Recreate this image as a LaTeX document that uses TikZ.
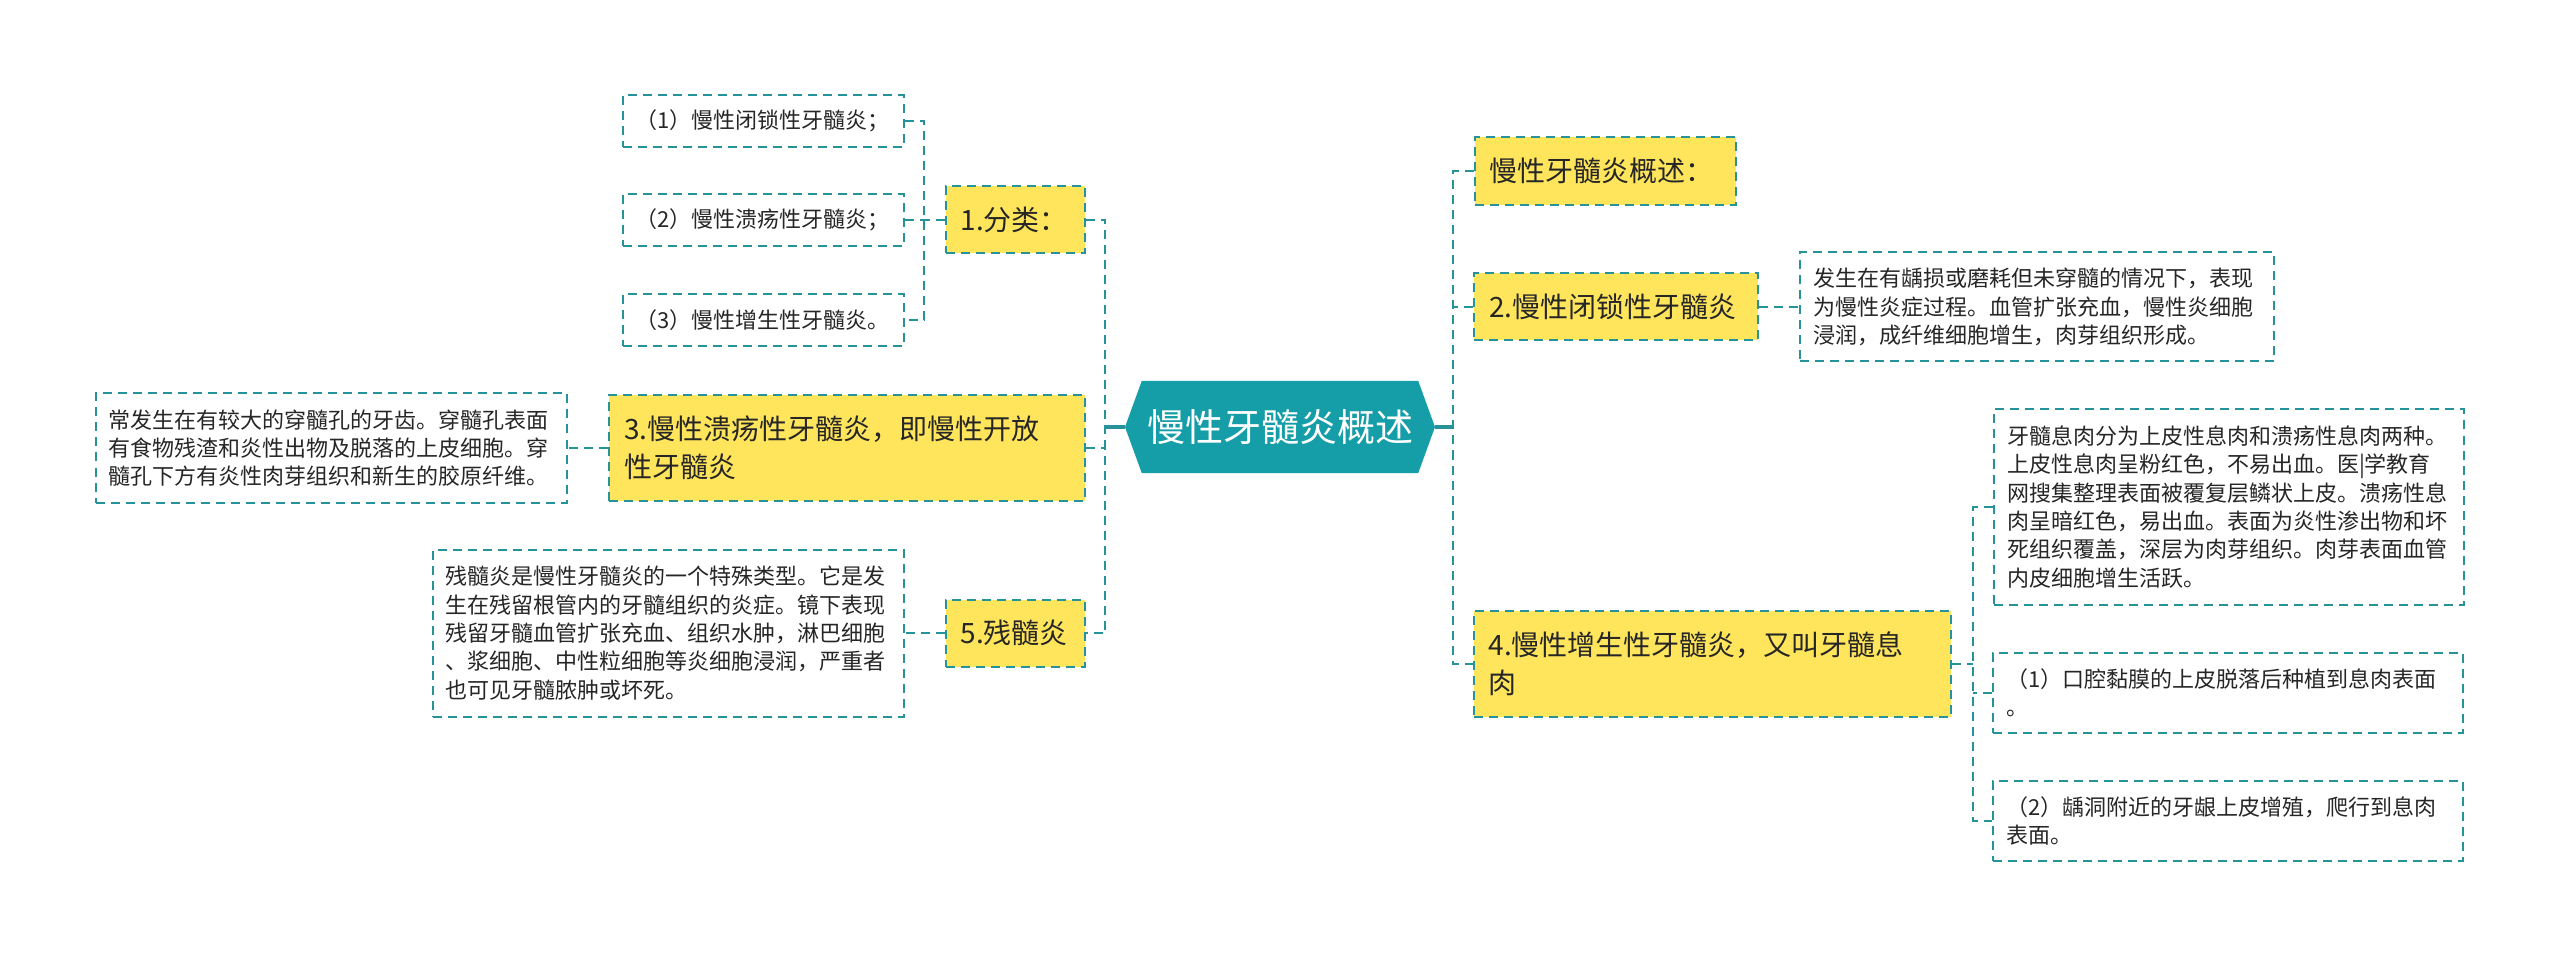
\documentclass[tikz,border=0pt]{standalone}
\usepackage{fontspec}
\setmainfont{Noto Sans CJK SC}
\usepackage{tikz}
\usetikzlibrary{shapes.symbols,calc}
\definecolor{pulpteal}{HTML}{169EA8}
\definecolor{pulpline}{HTML}{26939B}
\definecolor{pulpyellow}{HTML}{FFE55C}
\definecolor{pulptext}{HTML}{262626}
\setlength{\parindent}{0pt}

\begin{document}
\begin{tikzpicture}[x=1pt, y=-1pt,
    hub_box/.style={shape=signal, signal to=west and east, signal pointer angle=140, fill=pulpteal, draw=none, minimum width=310pt, minimum height=92pt, inner sep=0pt, text=white, font=\fontsize{38}{44}\selectfont},
    main_box/.style={draw=pulpline, fill=pulpyellow, line width=2pt, dash pattern=on 9pt off 6pt, inner xsep=15pt, inner ysep=0pt, align=left, text=pulptext, font=\fontsize{28}{38}\selectfont},
    note_box/.style={draw=pulpline, fill=white, line width=2pt, dash pattern=on 9pt off 6pt, inner xsep=13pt, inner ysep=0pt, align=left, text=pulptext, font=\fontsize{22}{28.3}\selectfont},
    link/.style={draw=pulpline, line width=2pt, dash pattern=on 9pt off 6pt},
    hub_link/.style={draw=pulpline, line width=3.5pt}
]
    \useasboundingbox (0,0) rectangle (2560,957);

    % Nodes
    \node[hub_box] (hub) at (1280,427) {慢性牙髓炎概述};

    % left side
    \node[main_box, text width=109pt, minimum height=67pt] (fenlei) at (1015,220) {1.分类：};
    \node[note_box, text width=255pt, minimum height=52pt] (fenlei_a) at (763,121) {（1）慢性闭锁性牙髓炎；};
    \node[note_box, text width=255pt, minimum height=52pt] (fenlei_b) at (763,220) {（2）慢性溃疡性牙髓炎；};
    \node[note_box, text width=255pt, minimum height=52pt] (fenlei_c) at (763,320) {（3）慢性增生性牙髓炎。};

    \node[main_box, text width=446pt, minimum height=106pt] (kuiyang) at (847,448) {3.慢性溃疡性牙髓炎，即慢性开放\\性牙髓炎};
    \node[note_box, text width=445pt, minimum height=109pt] (kuiyang_note) at (331,448) {
        常发生在有较大的穿髓孔的牙齿。穿髓孔表面\\
        有食物残渣和炎性出物及脱落的上皮细胞。穿\\
        髓孔下方有炎性肉芽组织和新生的胶原纤维。};

    \node[main_box, text width=109pt, minimum height=67pt] (cansui) at (1015,633) {5.残髓炎};
    \node[note_box, text width=445pt, minimum height=167pt] (cansui_note) at (668,633) {
        残髓炎是慢性牙髓炎的一个特殊类型。它是发\\
        生在残留根管内的牙髓组织的炎症。镜下表现\\
        残留牙髓血管扩张充血、组织水肿，淋巴细胞\\
        、浆细胞、中性粒细胞等炎细胞浸润，严重者\\
        也可见牙髓脓肿或坏死。};

    % right side
    \node[main_box, text width=231pt, minimum height=68pt] (gaishu) at (1605,171) {慢性牙髓炎概述：};

    \node[main_box, text width=254pt, minimum height=67pt] (bisuo) at (1616,307) {2.慢性闭锁性牙髓炎};
    \node[note_box, text width=448pt, minimum height=109pt] (bisuo_note) at (2037,307) {
        发生在有龋损或磨耗但未穿髓的情况下，表现\\
        为慢性炎症过程。血管扩张充血，慢性炎细胞\\
        浸润，成纤维细胞增生，肉芽组织形成。};

    \node[main_box, text width=447pt, minimum height=106pt] (zengsheng) at (1712,664) {4.慢性增生性牙髓炎，又叫牙髓息\\肉};
    \node[note_box, text width=444pt, minimum height=195pt] (xirou_note) at (2229,507) {
        牙髓息肉分为上皮性息肉和溃疡性息肉两种。\\
        上皮性息肉呈粉红色，不易出血。医|学教育\\
        网搜集整理表面被覆复层鳞状上皮。溃疡性息\\
        肉呈暗红色，易出血。表面为炎性渗出物和坏\\
        死组织覆盖，深层为肉芽组织。肉芽表面血管\\
        内皮细胞增生活跃。};
    \node[note_box, text width=444pt, minimum height=80pt] (xirou_a) at (2228,693) {（1）口腔黏膜的上皮脱落后种植到息肉表面\\。};
    \node[note_box, text width=444pt, minimum height=80pt] (xirou_b) at (2228,821) {（2）龋洞附近的牙龈上皮增殖，爬行到息肉\\表面。};

    % Trunks
    \coordinate (left_trunk) at (1105,427);
    \coordinate (right_trunk) at (1453,427);
    \coordinate (fenlei_trunk) at (924,220);
    \coordinate (xirou_trunk) at (1973,664);

    % Connections
    \draw[hub_link] (hub.west) -- (left_trunk);
    \draw[hub_link] (hub.east) -- (right_trunk);

    \draw[link] (fenlei.east) -- (fenlei.east -| left_trunk) -- (cansui.east -| left_trunk) -- (cansui.east);
    \draw[link] (kuiyang.east) -- (kuiyang.east -| left_trunk);
    \draw[link] (fenlei.west) -- (fenlei_trunk);
    \draw[link] (fenlei_a.east) -- (fenlei_a.east -| fenlei_trunk) -- (fenlei_c.east -| fenlei_trunk) -- (fenlei_c.east);
    \draw[link] (fenlei_b.east) -- (fenlei_b.east -| fenlei_trunk);
    \draw[link] (kuiyang.west) -- (kuiyang_note.east);
    \draw[link] (cansui.west) -- (cansui_note.east);

    \draw[link] (gaishu.west) -- (gaishu.west -| right_trunk) -- (zengsheng.west -| right_trunk) -- (zengsheng.west);
    \draw[link] (bisuo.west) -- (bisuo.west -| right_trunk);
    \draw[link] (bisuo.east) -- (bisuo_note.west);
    \draw[link] (zengsheng.east) -- (xirou_trunk);
    \draw[link] (xirou_note.west) -- (xirou_note.west -| xirou_trunk) -- (xirou_b.west -| xirou_trunk) -- (xirou_b.west);
    \draw[link] (xirou_a.west) -- (xirou_a.west -| xirou_trunk);
\end{tikzpicture}
\end{document}
